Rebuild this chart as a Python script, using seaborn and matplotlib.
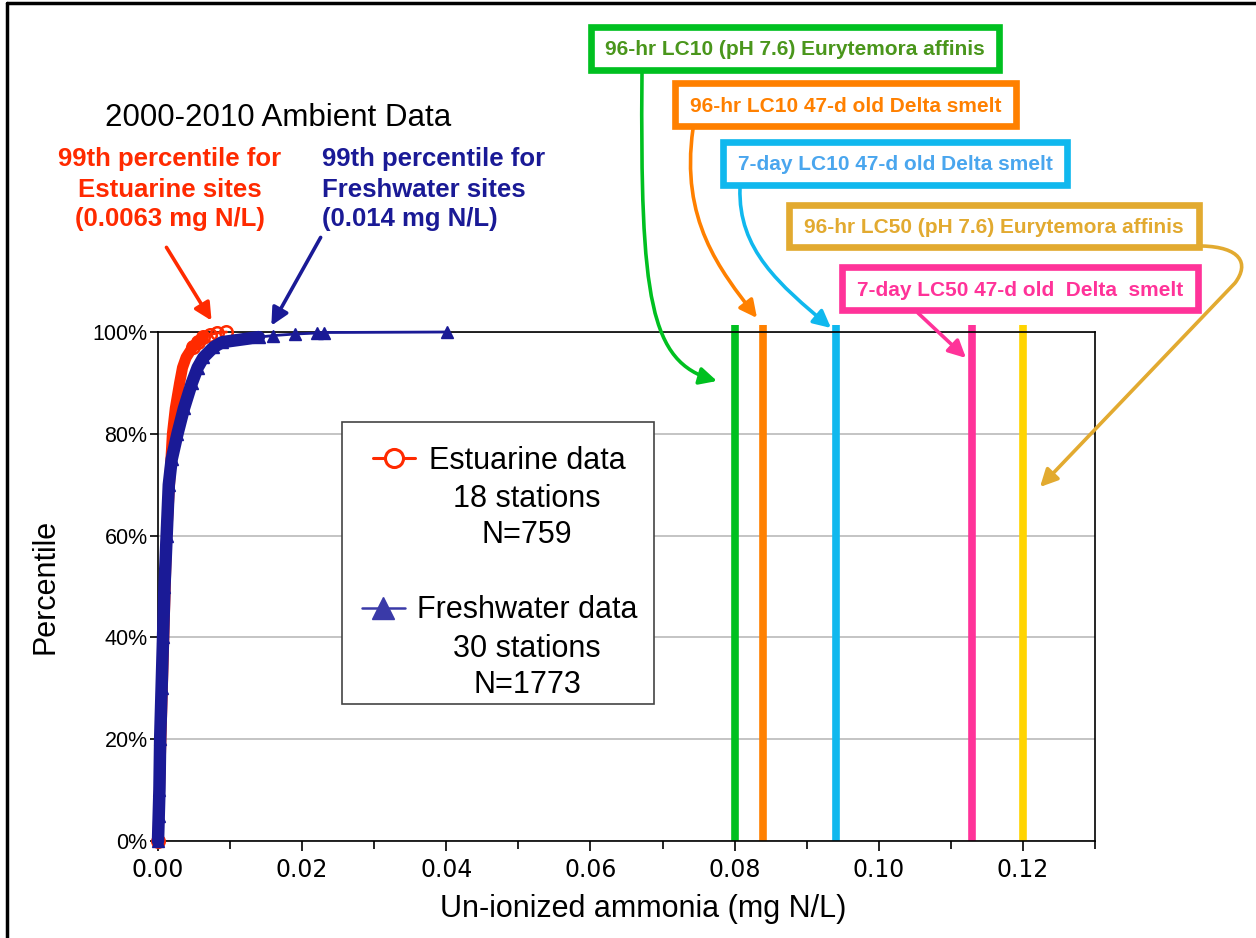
import numpy as np
import pandas as pd
import matplotlib.pyplot as plt
import seaborn as sns
from matplotlib.patches import FancyArrowPatch, Rectangle
from matplotlib.path import Path
from matplotlib.lines import Line2D
from matplotlib.ticker import MultipleLocator, FuncFormatter

# cumulative distributions (percentile vs un-ionized ammonia, mg N/L)
est_pct = [0, .05, .10, .20, .30, .40, .50, .60, .70, .75, .80, .85, .90, .93, .95, .97, .98, .99, .995, .998, 1.0]
est_x = [0, .0001, .0002, .0004, .0006, .0008, .0010, .0012, .0016, .0018, .0020, .0024, .0030, .0034,
         .0039, .0048, .0056, .0063, .0072, .0082, .0095]
fw_pct = [0, .05, .10, .20, .30, .40, .50, .60, .70, .75, .80, .85, .90, .93, .95, .97, .98, .99,
          .993, .996, .998, .999, 1.0]
fw_x = [0, .0001, .0002, .0003, .0005, .0007, .0009, .0012, .0015, .0019, .0027, .0036, .0047, .0055,
        .0063, .0077, .0089, .0140, .0160, .0190, .0220, .0230, .0401]

# toxicity thresholds
lc_labels = ['96-hr LC10 (pH 7.6) Eurytemora affinis', '96-hr LC10 47-d old Delta smelt',
             '7-day LC10 47-d old Delta smelt', '96-hr LC50 (pH 7.6) Eurytemora affinis',
             '7-day LC50 47-d old  Delta  smelt']
lc_x = [0.080, 0.084, 0.094, 0.120, 0.113]

est_legend = ['Estuarine data', '18 stations', 'N=759']
fw_legend = ['Freshwater data', '30 stations', 'N=1773']
est_note = ['99th percentile for', 'Estuarine sites', '(0.0063 mg N/L)']
fw_note = ['99th percentile for', 'Freshwater sites', '(0.014 mg N/L)']

red = '#ff2a00'
navy = '#1a1a96'
line_cols = ['#00c020', '#ff8000', '#10b8ee', '#ffd400', '#ff3399']
box_cols = ['#00c020', '#ff8000', '#10b8ee', '#e2aa30', '#ff3399']
txt_cols = ['#4a961c', '#ff8000', '#4aa6ee', '#e2aa30', '#ff3399']

W, H = 1256, 938
sns.set_theme(style='ticks')
plt.rcParams['font.family'] = ['Liberation Sans', 'DejaVu Sans']
plt.rcParams.update({'text.color': 'black', 'axes.labelcolor': 'black',
                     'xtick.color': 'black', 'ytick.color': 'black'})

fig = plt.figure(figsize=(W / 100, H / 100), dpi=100)
ax = fig.add_axes([158 / W, 1 - 841 / H, (1095 - 158) / W, (841 - 332) / H])


def fp(x, y):
    # image pixel -> figure fraction
    return x / W, 1 - y / H


est = pd.DataFrame({'x': est_x, 'pct': est_pct})
fw = pd.DataFrame({'x': fw_x, 'pct': fw_pct})

# dense part of each curve looks like a thick band of overlapping markers
sns.lineplot(data=est[est.pct <= .99], x='x', y='pct', color=red, lw=8, estimator=None,
             ax=ax, clip_on=False, zorder=3)
sns.lineplot(data=est, x='x', y='pct', color=red, lw=2, marker='o', ms=9, mfc='none',
             mec=red, mew=1.8, markevery=[0] + list(range(15, len(est))), estimator=None,
             ax=ax, clip_on=False, zorder=3)
sns.lineplot(data=fw[fw.pct <= .99], x='x', y='pct', color=navy, lw=9, estimator=None,
             ax=ax, clip_on=False, zorder=4)
sns.lineplot(data=fw, x='x', y='pct', color=navy, lw=2, marker='^', ms=9, mfc=navy,
             mec=navy, mew=1, estimator=None, ax=ax, clip_on=False, zorder=4)

ax.vlines(lc_x, 0, 1.013, colors=line_cols, lw=5.5, clip_on=False, zorder=2)

ax.set_xlim(0, 0.13)
ax.set_ylim(0, 1)
ax.xaxis.set_major_locator(MultipleLocator(0.02))
ax.xaxis.set_minor_locator(MultipleLocator(0.01))
ax.xaxis.set_major_formatter(FuncFormatter(lambda v, p: f'{v:.2f}'))
ax.yaxis.set_major_locator(MultipleLocator(0.2))
ax.yaxis.set_major_formatter(FuncFormatter(lambda v, p: f'{v * 100:.0f}%'))
ax.grid(axis='y', color='#b4b4b4', lw=1.1)
ax.set_axisbelow(True)
for s in ax.spines.values():
    s.set_color('black')
    s.set_linewidth(1.2)
ax.tick_params(axis='both', which='both', direction='out', color='black', width=1.2)
ax.tick_params(axis='x', which='major', length=7, labelsize=17, pad=5)
ax.tick_params(axis='x', which='minor', length=6)
ax.tick_params(axis='y', length=6, labelsize=15.5, pad=1.5)
for t in ax.get_xticklabels():
    t.set_fontfamily('DejaVu Sans')
ax.set_xlabel('Un-ionized ammonia (mg N/L)', fontsize=22)
ax.set_ylabel('Percentile', fontsize=22)
ax.xaxis.set_label_coords(0.5176, -0.104)
ax.yaxis.set_label_coords(-0.104, 0.5)

# legend box drawn by hand so the text lines sit centred under each entry
ax.add_patch(Rectangle((0.196, 0.269), 0.333, 0.554, transform=ax.transAxes, fc='white',
                       ec='#444444', lw=1.2, zorder=6))
for lines, ys in [(est_legend, [469, 507, 543]), (fw_legend, [618, 657, 693])]:
    for s, yb in zip(lines, ys):
        ax.text(0.394, (841 - yb) / 509, s, transform=ax.transAxes, ha='center',
                va='baseline', fontsize=22, zorder=7)
ax.add_line(Line2D([0.2295, 0.252, 0.2743], [0.7525] * 3, transform=ax.transAxes, color=red,
                   lw=2.2, marker='o', ms=13, mfc='white', mec=red, mew=2.2, markevery=[1],
                   zorder=7))
ax.add_line(Line2D([0.2177, 0.2406, 0.2636], [0.4578] * 3, transform=ax.transAxes,
                   color='#3a3aa8', lw=1.8, marker='^', ms=16, mfc='#3a3aa8', mec='#3a3aa8',
                   markevery=[1], zorder=7))

# titles and percentile notes
fig.text(*fp(105, 126), '2000-2010 Ambient Data', fontsize=22.5, ha='left', va='baseline')
for s, yb in zip(est_note, [166, 197, 226]):
    fig.text(*fp(170, yb), s, color=red, fontsize=18.5, fontweight='bold', ha='center',
             va='baseline')
for s, yb in zip(fw_note, [166, 197, 226]):
    fig.text(*fp(322, yb), s, color=navy, fontsize=18.5, fontweight='bold', ha='left',
             va='baseline')
for a, b, c in [((165, 245), (213, 323), red), ((322, 235), (270, 328), navy)]:
    fig.add_artist(FancyArrowPatch(fp(*a), fp(*b), transform=fig.transFigure, color=c,
                                   lw=2.6, arrowstyle='-|>', mutation_scale=26))

# threshold label boxes (outer pixel extents) and their connector arrows
boxes = [(588, 24, 1002, 73), (672, 80, 1019, 129), (720, 139, 1070, 188),
         (786, 202, 1202, 250), (839, 264, 1201, 313)]
base = [55, 112, 170, 233, 296]
for lab, (x0, y0, x1, y1), yb, bc, tc in zip(lc_labels, boxes, base, box_cols, txt_cols):
    fig.add_artist(Rectangle(fp(x0 + 3, y1 - 3), (x1 - x0 - 6) / W, (y1 - y0 - 6) / H,
                             transform=fig.transFigure, fc='white', ec=bc, lw=4.8))
    fig.text(*fp((x0 + x1) / 2, yb), lab, color=tc, fontsize=15, fontweight='bold',
             ha='center', va='baseline')

C4 = Path.CURVE4
paths = [
    ([(642, 73), (640, 300), (650, 362), (717, 381)], [Path.MOVETO, C4, C4, C4]),
    ([(693, 129), (680, 220), (720, 270), (757, 318)], [Path.MOVETO, C4, C4, C4]),
    ([(740, 188), (738, 250), (780, 285), (831, 328)], [Path.MOVETO, C4, C4, C4]),
    ([(1202, 246), (1240, 247), (1250, 263), (1235, 283), (1040, 487)],
     [Path.MOVETO, C4, C4, C4, Path.LINETO]),
    ([(918, 313), (966, 358)], [Path.MOVETO, Path.LINETO]),
]
for (verts, codes), c in zip(paths, box_cols):
    fig.add_artist(FancyArrowPatch(path=Path([fp(*v) for v in verts], codes),
                                   transform=fig.transFigure, color=c, lw=2.6,
                                   arrowstyle='-|>', mutation_scale=26))

# frame around the slide
fig.add_artist(Line2D([7 / W, 1], [1 - 3 / H, 1 - 3 / H], transform=fig.transFigure,
                      color='black', lw=2.5))
fig.add_artist(Line2D([7 / W, 7 / W], [0, 1 - 3 / H], transform=fig.transFigure,
                      color='black', lw=2.5))

fig.savefig('out.png', dpi=100)
